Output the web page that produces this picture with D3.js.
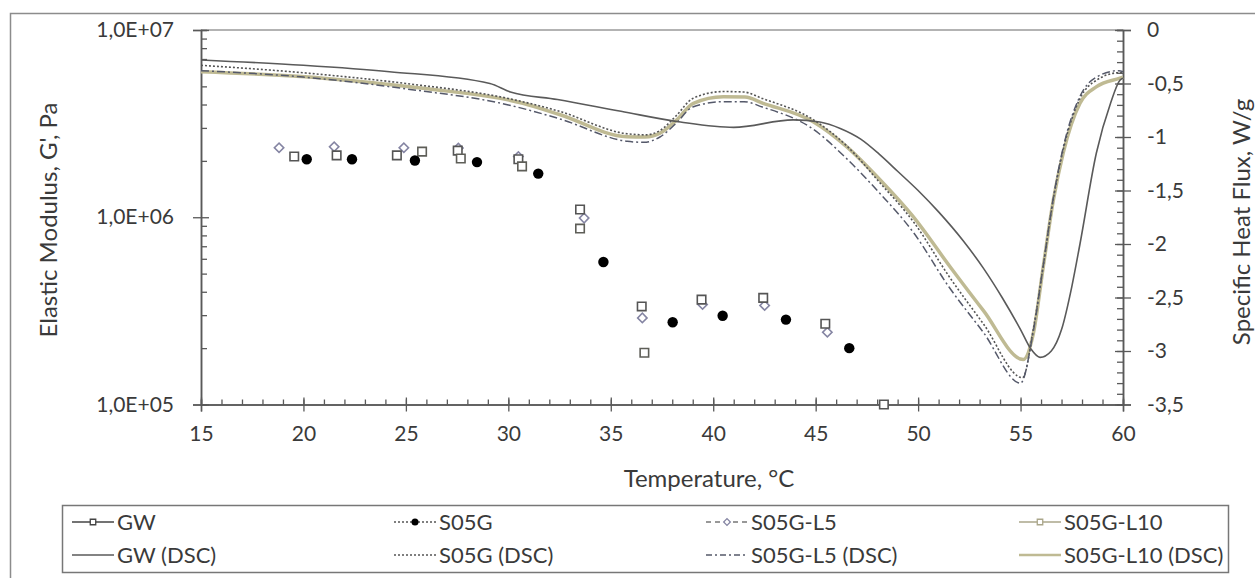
<!DOCTYPE html>
<html>
<head>
<meta charset="utf-8">
<script src="https://cdn.jsdelivr.net/npm/d3@7"></script>
<style>
  body { margin: 0; background: #fff; }
  text { font-family: Lato, "Open Sans", sans-serif; fill: #3a3a3a; }
</style>
</head>
<body>
<div id="chart"></div>
<script>
// rheology points (temperature, G')
var gwT  = [19.55, 21.62, 24.56, 27.53, 30.49, 33.5, 36.51, 39.43, 42.44, 45.47, 48.33];
var gwG  = [2.11e6, 2.14e6, 2.14e6, 2.27e6, 2.04e6, 1.10e6, 3.34e5, 3.63e5, 3.71e5, 2.70e5, 1.0e5];
var s05T = [20.16, 22.37, 25.44, 28.47, 31.46, 34.64, 38.02, 40.46, 43.55, 46.64];
var s05G = [2.04e6, 2.04e6, 2.01e6, 1.97e6, 1.71e6, 5.77e5, 2.75e5, 2.98e5, 2.84e5, 2.0e5];
var l5T  = [18.81, 21.5, 24.9, 27.56, 30.49, 33.7, 36.54, 39.48, 42.51, 45.57];
var l5G  = [2.35e6, 2.38e6, 2.35e6, 2.34e6, 2.11e6, 9.9e5, 2.90e5, 3.42e5, 3.38e5, 2.43e5];
var l10T = [25.79, 27.68, 30.67, 33.5, 36.64];
var l10G = [2.24e6, 2.06e6, 1.87e6, 8.7e5, 1.89e5];

// DSC curves (temperature, heat flux W/g)
var gwDscT = [15, 20, 24.2, 29.1, 30.1, 32.4, 35.5, 38.4, 41.0, 43.9, 45.2, 46.2, 47.2, 48.1, 49.0, 50.0, 51.0, 52.2, 53.2, 54.1, 55.0, 55.5, 55.95, 56.5, 57.0, 57.5, 57.9, 58.7, 59.4, 59.85, 60];
var gwDscQ = [-0.28, -0.33, -0.39, -0.50, -0.58, -0.65, -0.76, -0.86, -0.91, -0.84, -0.86, -0.92, -1.02, -1.16, -1.32, -1.50, -1.70, -1.97, -2.23, -2.50, -2.80, -2.98, -3.06, -3.0, -2.8, -2.4, -2.0, -1.15, -0.68, -0.47, -0.45];
var s05DscT = [15, 20, 25, 30, 32.5, 35.8, 36.7, 37.4, 38.2, 39.0, 40.5, 41.5, 42.4, 44.9, 46.5, 48.1, 49.8, 51.5, 53.2, 55.1, 55.62, 56.11, 56.6, 57.08, 57.9, 58.7, 59.8, 60];
var s05DscQ = [-0.33, -0.40, -0.50, -0.64, -0.76, -0.97, -0.98, -0.94, -0.80, -0.64, -0.575, -0.58, -0.64, -0.84, -1.08, -1.42, -1.80, -2.30, -2.75, -3.25, -2.80, -2.20, -1.58, -1.12, -0.64, -0.47, -0.40, -0.40];
var l5DscT = [15, 20, 25, 30, 32.5, 35.8, 36.6, 37.4, 38.2, 39.0, 40.5, 41.5, 42.4, 44.9, 46.5, 48.1, 49.8, 51.5, 53.2, 55.0, 55.62, 56.11, 56.6, 57.08, 57.9, 58.7, 59.8, 60];
var l5DscQ = [-0.38, -0.44, -0.55, -0.70, -0.83, -1.04, -1.05, -1.0, -0.87, -0.72, -0.67, -0.67, -0.72, -0.93, -1.2, -1.52, -1.90, -2.40, -2.83, -3.30, -2.82, -2.20, -1.57, -1.10, -0.62, -0.44, -0.38, -0.39];
var l10DscT = [15, 20.95, 25.83, 30.71, 32.5, 35.78, 36.67, 37.4, 38.22, 39.03, 40.49, 41.55, 42.44, 44.88, 46.51, 48.14, 49.76, 51.55, 53.18, 55.13, 55.62, 56.11, 56.6, 57.08, 57.9, 58.71, 59.85, 60];
var l10DscQ = [-0.39, -0.45, -0.545, -0.685, -0.79, -0.997, -1.0, -0.965, -0.84, -0.685, -0.623, -0.626, -0.685, -0.857, -1.09, -1.40, -1.745, -2.21, -2.62, -3.08, -2.84, -2.21, -1.59, -1.15, -0.685, -0.53, -0.45, -0.44];

var xTicks = [15, 20, 25, 30, 35, 40, 45, 50, 55, 60];
var yLeftTicks = [1e5, 1e6, 1e7];
var yRightTicks = [0, -0.5, -1, -1.5, -2, -2.5, -3, -3.5];

var width = 1255, height = 578;
var margin = { top: 30, right: 132, bottom: 173.5, left: 201 };

var svg = d3.select("#chart").append("svg")
  .attr("width", width)
  .attr("height", height);

svg.append("rect").attr("width", width).attr("height", height).attr("fill", "#fff");

// outer frame
svg.append("rect")
  .attr("x", 10.5).attr("y", 13.5)
  .attr("width", 1260).attr("height", 600)
  .attr("fill", "none").attr("stroke", "#8c8c8c").attr("stroke-width", 1.5);

var x = d3.scaleLinear().domain([15, 60]).range([margin.left, width - margin.right]);
var yL = d3.scaleLog().domain([1e5, 1e7]).range([height - margin.bottom, margin.top]);
var yR = d3.scaleLinear().domain([-3.5, 0]).range([height - margin.bottom, margin.top]);

// top border of plot area
svg.append("line")
  .attr("x1", x(15)).attr("x2", x(60))
  .attr("y1", margin.top).attr("y2", margin.top)
  .attr("stroke", "#9a9a9a").attr("stroke-width", 1.5);

var axisColor = "#595959";
function styleAxis(g) {
  g.select(".domain").attr("stroke", axisColor).attr("stroke-width", 1.5);
  g.selectAll(".tick line").attr("stroke", axisColor).attr("stroke-width", 1.3);
  g.selectAll(".tick text").style("font-size", "21px").attr("fill", "#3a3a3a");
}

// x axis: minor then major
svg.append("g")
  .attr("transform", "translate(0," + yL(1e5) + ")")
  .call(d3.axisBottom(x).tickValues(d3.range(15, 61, 1)).tickSize(-5).tickFormat(""))
  .call(styleAxis);
svg.append("g")
  .attr("transform", "translate(0," + yL(1e5) + ")")
  .call(d3.axisBottom(x).tickValues(xTicks).tickSize(7).tickPadding(15).tickFormat(d3.format("d")))
  .call(styleAxis)
  .call(g => g.selectAll(".tick line").attr("y1", -7));

// left log axis
var minorL = [];
[1e5, 1e6].forEach(function(b) { for (var k = 2; k <= 9; k++) minorL.push(b * k); });
svg.append("g")
  .attr("transform", "translate(" + x(15) + ",0)")
  .call(d3.axisLeft(yL).tickValues(minorL).tickSize(-6).tickFormat(""))
  .call(styleAxis);
svg.append("g")
  .attr("transform", "translate(" + x(15) + ",0)")
  .call(d3.axisLeft(yL).tickValues(yLeftTicks).tickSize(8).tickPadding(19)
    .tickFormat(d => "1,0E+0" + Math.round(Math.log10(d))))
  .call(styleAxis)
  .call(g => g.selectAll(".tick line").attr("x1", 8));

// right axis
svg.append("g")
  .attr("transform", "translate(" + x(60) + ",0)")
  .call(d3.axisRight(yR).tickValues(d3.range(0, 36).map(i => -i / 10)).tickSize(-6).tickFormat(""))
  .call(styleAxis);
svg.append("g")
  .attr("transform", "translate(" + x(60) + ",0)")
  .call(d3.axisRight(yR).tickValues(yRightTicks).tickSize(8).tickPadding(16)
    .tickFormat(d => String(d).replace(".", ",")))
  .call(styleAxis)
  .call(g => g.selectAll(".tick line").attr("x1", -8));

// axis titles
svg.append("text")
  .attr("x", (x(15) + x(60)) / 2 + 47).attr("y", 487)
  .attr("text-anchor", "middle")
  .style("font-size", "24px")
  .text("Temperature, °C");

svg.append("text")
  .attr("transform", "translate(57," + 220 + ") rotate(-90)")
  .attr("text-anchor", "middle")
  .style("font-size", "24px")
  .text("Elastic Modulus, G', Pa");

svg.append("text")
  .attr("transform", "translate(1250," + 222 + ") rotate(-90)")
  .attr("text-anchor", "middle")
  .style("font-size", "24px")
  .text("Specific Heat Flux, W/g");

// DSC lines
var dsc = [
  { t: l10DscT, q: l10DscQ, stroke: "#bfba93", w: 3.5, dash: null },
  { t: s05DscT, q: s05DscQ, stroke: "#555", w: 1.6, dash: "2,2" },
  { t: l5DscT,  q: l5DscQ,  stroke: "#55596a", w: 1.5, dash: "8,3,2,3" },
  { t: gwDscT,  q: gwDscQ,  stroke: "#5a5a5a", w: 1.6, dash: null }
];
var line = d3.line()
  .x(d => x(d[0]))
  .y(d => yR(d[1]))
  .curve(d3.curveMonotoneX);

dsc.forEach(function(s) {
  svg.append("path")
    .datum(d3.zip(s.t, s.q))
    .attr("d", line)
    .attr("fill", "none")
    .attr("stroke", s.stroke)
    .attr("stroke-width", s.w)
    .attr("stroke-dasharray", s.dash);
});

// rheology markers
var square = d3.symbol().type(d3.symbolSquare).size(72);
var diamond = d3.symbol().type(d3.symbolSquare).size(44);

function drawSym(T, G, sym, stroke, rot) {
  svg.append("g").selectAll("path")
    .data(d3.zip(T, G))
    .enter()
    .append("path")
    .attr("transform", d => "translate(" + x(d[0]) + "," + yL(d[1]) + ") rotate(" + rot + ")")
    .attr("d", sym)
    .attr("fill", "#fff")
    .attr("stroke", stroke)
    .attr("stroke-width", 1.6);
}
drawSym(l5T, l5G, diamond, "#8585a3", 45);
drawSym(gwT, gwG, square, "#555", 0);
drawSym(l10T, l10G, square, "#5e5e58", 0);

svg.append("g").selectAll("circle")
  .data(d3.zip(s05T, s05G))
  .enter()
  .append("circle")
  .attr("cx", d => x(d[0]))
  .attr("cy", d => yL(d[1]))
  .attr("r", 5.2)
  .attr("fill", "#000");

// legend
var legend = svg.append("g");
legend.append("rect")
  .attr("x", 62.5).attr("y", 505.5)
  .attr("width", 1166).attr("height", 67)
  .attr("fill", "none").attr("stroke", "#777").attr("stroke-width", 1.5);

var legendItems = [
  { name: "GW", col: 0, row: 0, stroke: "#444", dash: null, mark: "square" },
  { name: "S05G", col: 1, row: 0, stroke: "#555", dash: "2,2", mark: "dot" },
  { name: "S05G-L5", col: 2, row: 0, stroke: "#777", dash: "5,4", mark: "diamond" },
  { name: "S05G-L10", col: 3, row: 0, stroke: "#aaa68a", dash: null, mark: "square" },
  { name: "GW (DSC)", col: 0, row: 1, stroke: "#5a5a5a", dash: null, mark: null },
  { name: "S05G (DSC)", col: 1, row: 1, stroke: "#555", dash: "2,2", mark: null },
  { name: "S05G-L5 (DSC)", col: 2, row: 1, stroke: "#55596a", dash: "6,3,2,3", mark: null },
  { name: "S05G-L10 (DSC)", col: 3, row: 1, stroke: "#bfba93", dash: null, mark: null }
];
var colX = [72, 394, 706, 1019];
var rowY = [522, 555];

legendItems.forEach(function(it) {
  var x0 = colX[it.col], yy = rowY[it.row];
  legend.append("line")
    .attr("x1", x0).attr("x2", x0 + 42)
    .attr("y1", yy).attr("y2", yy)
    .attr("stroke", it.stroke)
    .attr("stroke-width", it.name === "S05G-L10 (DSC)" ? 2.5 : 1.6)
    .attr("stroke-dasharray", it.dash);
  if (it.mark === "square") {
    legend.append("path").attr("transform", "translate(" + (x0 + 21) + "," + yy + ")")
      .attr("d", d3.symbol().type(d3.symbolSquare).size(30))
      .attr("fill", "#fff").attr("stroke", it.stroke).attr("stroke-width", 1.3);
  } else if (it.mark === "diamond") {
    legend.append("path").attr("transform", "translate(" + (x0 + 21) + "," + yy + ") rotate(45)")
      .attr("d", d3.symbol().type(d3.symbolSquare).size(22))
      .attr("fill", "#fff").attr("stroke", "#8585a3").attr("stroke-width", 1.3);
  } else if (it.mark === "dot") {
    legend.append("circle").attr("cx", x0 + 21).attr("cy", yy).attr("r", 3.5).attr("fill", "#000");
  }
  legend.append("text")
    .attr("x", x0 + 45).attr("y", yy)
    .attr("dy", "0.35em")
    .style("font-size", "22px")
    .text(it.name);
});
</script>
</body>
</html>
